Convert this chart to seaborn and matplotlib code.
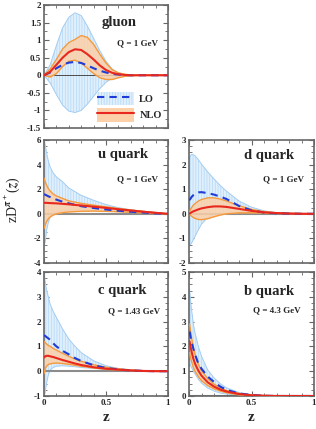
import numpy as np
import matplotlib
matplotlib.use("Agg")
import matplotlib.pyplot as plt
import matplotlib.patches as mpatches
from matplotlib.lines import Line2D
from matplotlib.ticker import MultipleLocator
import seaborn as sns

# ---- datos ----
g_z = [0, .05, .1, .15, .2, .25, .3, .35, .4, .45, .5, .55, .6, .65, .7, .8, .9, 1]
g_lo = [0, .08, .2, .3, .36, .38, .35, .28, .2, .13, .08, .04, .02, .01, 0, 0, 0, 0]
g_lo_hi = [0, .3, .85, 1.35, 1.65, 1.78, 1.7, 1.4, 1.05, .7, .4, .18, .06, .02, 0, 0, 0, 0]
g_lo_lo = [0, -.22, -.55, -.85, -1.02, -1.06, -1.0, -.82, -.6, -.38, -.2, -.08, -.02, -.01, 0, 0, 0, 0]
g_nlo = [0, .1, .3, .5, .66, .74, .72, .6, .45, .28, .15, .07, .03, .01, 0, 0, 0, 0]
g_nlo_hi = [0, .18, .45, .75, .93, 1.02, 1.13, 1.08, .88, .6, .35, .16, .07, .03, .01, 0, 0, 0]
g_nlo_lo = [0, -.05, .05, .25, .4, .43, .35, .2, .05, -.07, -.12, -.12, -.07, -.03, -.01, 0, 0, 0]

q_z = [0, .01, .02, .035, .05, .075, .1, .15, .2, .25, .3, .4, .5, .6, .7, .8, .9, 1]
u_lo = [1.6, 1.55, 1.5, 1.42, 1.36, 1.25, 1.15, .98, .85, .73, .62, .47, .35, .25, .17, .1, .04, 0]
u_lo_hi = [6.0, 5.6, 5.0, 4.3, 3.8, 3.3, 3.0, 2.6, 2.1, 1.8, 1.5, 1.1, .75, .5, .33, .2, .1, 0]
u_lo_lo = [-2.6, -2.3, -1.4, -.7, -.3, 0, .15, .25, .3, .3, .3, .27, .22, .17, .12, .07, .03, 0]
u_nlo = [.9, .89, .89, .88, .87, .86, .85, .81, .77, .72, .68, .58, .48, .37, .27, .17, .08, 0]
u_nlo_hi = [2.9, 2.6, 2.35, 2.05, 1.85, 1.6, 1.45, 1.25, 1.05, .95, .85, .7, .57, .43, .31, .2, .1, 0]
u_nlo_lo = [-1.2, -.9, -.65, -.4, -.25, -.1, 0, .1, .15, .18, .2, .22, .2, .17, .12, .08, .04, 0]

d_lo = [.55, .6, .68, .76, .82, .87, .88, .84, .78, .7, .6, .32, .14, .05, .02, .01, 0, 0]
d_lo_hi = [2.2, 2.35, 2.42, 2.4, 2.35, 2.2, 2.02, 1.7, 1.42, 1.15, .92, .52, .27, .12, .05, .02, .01, 0]
d_lo_lo = [-1.2, -1.25, -1.2, -1.05, -.9, -.65, -.42, -.15, -.03, 0, .02, .02, .02, .01, 0, 0, 0, 0]
d_nlo = [0, .03, .06, .1, .13, .18, .22, .27, .3, .3, .28, .2, .12, .06, .03, .01, 0, 0]
d_nlo_hi = [.05, .15, .25, .35, .42, .52, .58, .65, .65, .6, .52, .33, .18, .09, .04, .02, .01, 0]
d_nlo_lo = [0, -.05, -.1, -.15, -.19, -.23, -.24, -.2, -.12, -.05, 0, .04, .04, .03, .02, .01, 0, 0]

c_lo = [1.45, 1.42, 1.38, 1.32, 1.27, 1.12, 1.0, .82, .68, .53, .41, .24, .13, .07, .03, .01, 0, 0]
c_lo_hi = [4.0, 3.6, 3.3, 3.0, 2.7, 2.4, 2.17, 1.7, 1.3, 1.0, .75, .42, .22, .11, .05, .02, .01, 0]
c_lo_lo = [-1.0, -.85, -.5, -.15, .05, .15, .2, .22, .2, .18, .15, .11, .08, .05, .03, .02, .01, 0]
c_nlo = [.55, .6, .62, .62, .6, .57, .53, .45, .38, .31, .25, .16, .1, .06, .03, .01, 0, 0]
c_nlo_hi = [1.2, 1.15, 1.1, 1.04, 1.0, .92, .85, .72, .6, .49, .4, .26, .16, .1, .05, .02, .01, 0]
c_nlo_lo = [-.1, .1, .2, .27, .3, .32, .33, .31, .28, .24, .2, .13, .08, .05, .03, .01, 0, 0]

b_z = [.005, .01, .02, .035, .05, .075, .1, .15, .2, .25, .3, .4, .5, .6, .7, .8, .9, 1]
b_lo = [2.6, 2.45, 2.2, 1.9, 1.65, 1.3, 1.1, .78, .57, .38, .25, .1, .04, .01, 0, 0, 0, 0]
b_lo_hi = [4.3, 4.0, 3.5, 2.9, 2.5, 2.0, 1.6, 1.05, .73, .5, .33, .14, .06, .02, .01, 0, 0, 0]
b_lo_lo = [1.3, 1.25, 1.15, 1.0, .88, .68, .52, .32, .2, .12, .08, .03, .01, 0, 0, 0, 0, 0]
b_nlo = [2.2, 2.05, 1.8, 1.5, 1.28, 1.02, .82, .55, .38, .26, .18, .08, .03, .01, 0, 0, 0, 0]
b_nlo_hi = [2.9, 2.7, 2.35, 1.95, 1.65, 1.28, 1.02, .7, .48, .33, .22, .1, .04, .02, .01, 0, 0, 0]
b_nlo_lo = [1.75, 1.6, 1.4, 1.15, .98, .78, .62, .42, .29, .2, .13, .05, .02, .01, 0, 0, 0, 0]

# ---- estilo ----
sns.set_style("ticks")
plt.rcParams['font.family'] = ['Liberation Serif', 'DejaVu Serif']
plt.rcParams['font.weight'] = 'bold'
plt.rcParams['mathtext.fontset'] = 'stix'
plt.rcParams['hatch.linewidth'] = 0.5

c_lo_fill = '#e0effc'
c_hatch = '#b3d8f7'
c_lo_edge = '#a3cdf2'
c_nlo_fill = '#fcd0a8'
c_nlo_edge = '#f59a3c'
c_red = '#e8281e'
c_blue = '#1f3cd8'
frame = '#666666'

W, H = 316, 429
fig = plt.figure(figsize=(W / 100, H / 100), dpi=100)


def panel(rect, z, lo, lo_hi, lo_lo, nlo, nlo_hi, nlo_lo, ylim, ystep, yminor,
          label, qtext, pos, xlabels=False, zero_color='#8c8c8c', zero_lw=1.5):
    l, t, w, h = rect
    ax = fig.add_axes([l / W, (H - t - h) / H, w / W, h / H])
    ax.fill_between(z, lo_lo, lo_hi, facecolor=c_lo_fill, edgecolor=c_hatch,
                    hatch='||||||', linewidth=0, zorder=1)
    sns.lineplot(x=z, y=lo_hi, ax=ax, color=c_lo_edge, linewidth=0.7, zorder=2)
    sns.lineplot(x=z, y=lo_lo, ax=ax, color=c_lo_edge, linewidth=0.7, zorder=2)
    ax.axhline(0, color=zero_color, lw=zero_lw, zorder=2.5)
    ax.fill_between(z, nlo_lo, nlo_hi, facecolor=c_nlo_fill, alpha=0.85,
                    linewidth=0, zorder=3)
    sns.lineplot(x=z, y=nlo_hi, ax=ax, color=c_nlo_edge, linewidth=1.0, zorder=4)
    sns.lineplot(x=z, y=nlo_lo, ax=ax, color=c_nlo_edge, linewidth=1.0, zorder=4)
    sns.lineplot(x=z, y=lo, ax=ax, color=c_blue, linewidth=1.5, zorder=5,
                 dashes=False, linestyle=(0, (3.5, 2.5)))
    sns.lineplot(x=z, y=nlo, ax=ax, color=c_red, linewidth=1.5, zorder=6)

    ax.set_xlim(0, 1)
    ax.set_ylim(*ylim)
    ax.xaxis.set_major_locator(MultipleLocator(0.5))
    ax.xaxis.set_minor_locator(MultipleLocator(0.1))
    ax.yaxis.set_major_locator(MultipleLocator(ystep))
    ax.yaxis.set_minor_locator(MultipleLocator(yminor))
    ax.tick_params(which='both', direction='in', top=True, right=True,
                   color=frame, labelsize=6.5, pad=2)
    ax.tick_params(which='major', length=3.5, width=0.8)
    ax.tick_params(which='minor', length=2, width=0.6)
    for s in ax.spines.values():
        s.set_color(frame)
        s.set_linewidth(1.2)
    ax.yaxis.set_major_formatter(plt.FuncFormatter(lambda v, p: f'{v:g}'))
    if xlabels:
        ax.xaxis.set_major_formatter(plt.FuncFormatter(lambda v, p: f'{v:g}'))
        ax.set_xlabel('z', fontsize=11, fontweight='bold', labelpad=3)
    else:
        ax.set_xticklabels([])
        ax.set_xlabel('')
    ax.set_ylabel('')
    lx, ly, qx, qy = pos
    ax.text(lx, ly, label, transform=ax.transAxes, ha='right', va='baseline',
            fontsize=10.5, fontweight='bold')
    ax.text(qx, qy, qtext, transform=ax.transAxes, ha='right', va='baseline',
            fontsize=6.5, fontweight='bold')
    return ax


ax_g = panel((44, 5, 124, 123), g_z, g_lo, g_lo_hi, g_lo_lo, g_nlo, g_nlo_hi, g_nlo_lo,
             (-1.5, 2), 0.5, 0.25, 'gluon', 'Q = 1 GeV', (0.75, 0.83, 0.92, 0.675),
             zero_color='#333333', zero_lw=0.6)
ax_u = panel((44, 140, 124, 123), q_z, u_lo, u_lo_hi, u_lo_lo, u_nlo, u_nlo_hi, u_nlo_lo,
             (-4, 6), 2, 0.5, 'u quark', 'Q = 1 GeV', (0.84, 0.856, 0.92, 0.667))
ax_d = panel((189, 140, 125, 123), q_z, d_lo, d_lo_hi, d_lo_lo, d_nlo, d_nlo_hi, d_nlo_lo,
             (-2, 3), 1, 0.25, 'd quark', 'Q = 1 GeV', (0.84, 0.843, 0.92, 0.667))
ax_c = panel((44, 272, 124, 124), q_z, c_lo, c_lo_hi, c_lo_lo, c_nlo, c_nlo_hi, c_nlo_lo,
             (-1, 4), 1, 0.25, 'c quark', 'Q = 1.43 GeV', (0.83, 0.82, 0.935, 0.67),
             xlabels=True)
ax_b = panel((189, 272, 125, 124), b_z, b_lo, b_lo_hi, b_lo_lo, b_nlo, b_nlo_hi, b_nlo_lo,
             (0, 5), 1, 0.25, 'b quark', 'Q = 4.3 GeV', (0.84, 0.817, 0.89, 0.677),
             xlabels=True)

# Leyenda del panel gluon
h_lo = (mpatches.Patch(facecolor=c_lo_fill, edgecolor=c_hatch, hatch='||||||', linewidth=0),
        Line2D([], [], color=c_blue, lw=1.5, linestyle=(0, (3.5, 2.5))))
h_nlo = (mpatches.Patch(facecolor=c_nlo_fill, edgecolor='none'),
         Line2D([], [], color=c_red, lw=1.5))
ax_g.legend([h_lo, h_nlo], ['LO', 'NLO'], loc='lower right', frameon=False,
            fontsize=7.5, handlelength=3.6, handleheight=1.6, handletextpad=0.5,
            labelspacing=0.3, borderaxespad=0.2, bbox_to_anchor=(1.0, 0.0))

fig.text(12 / W, 1 - 200 / H, r'zD$^{\pi^+}$($z$)', rotation=90, ha='center',
         va='center', fontsize=10, fontweight='normal')

fig.savefig('out.png', dpi=100)
